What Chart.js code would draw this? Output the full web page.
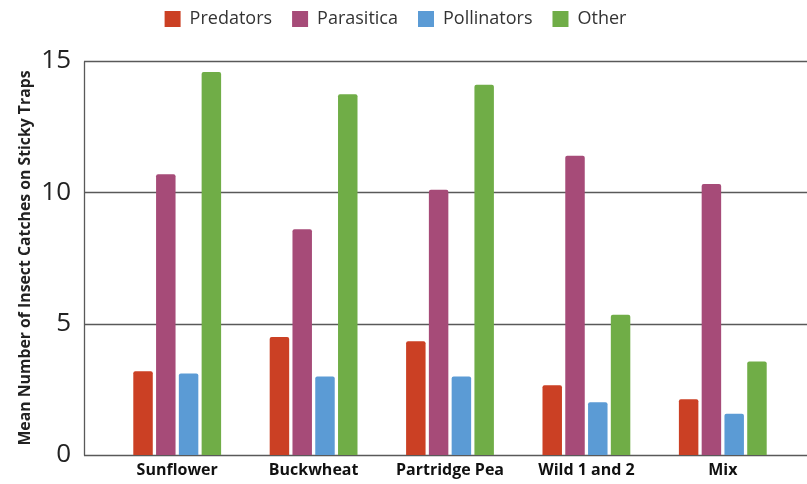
<!DOCTYPE html>
<html>
<head>
<meta charset="utf-8">
<script src="https://cdn.jsdelivr.net/npm/chart.js@4"></script>
<style>
  html, body { margin: 0; padding: 0; background: #fff; }
  canvas { display: block; }
</style>
</head>
<body>
<canvas id="c" width="807" height="484"></canvas>
<script>
const categories = ["Sunflower", "Buckwheat", "Partridge Pea", "Wild 1 and 2", "Mix"];
const seriesNames = ["Predators", "Parasitica", "Pollinators", "Other"];
const predators   = [3.19, 4.49, 4.33, 2.66, 2.12];
const parasitica  = [10.69, 8.59, 10.10, 11.39, 10.32];
const pollinators = [3.10, 2.99, 2.99, 2.01, 1.57];
const other       = [14.58, 13.73, 14.10, 5.34, 3.56];
const yTicks = [0, 5, 10, 15];
const colors = ["#CB4024", "#A64B78", "#5B9BD5", "#70AD47"];

const seriesValues = [predators, parasitica, pollinators, other];

// Horizontal gridlines and y axis line, extended past the category band
const extendedGrid = {
  id: 'extendedGrid',
  beforeDatasetsDraw(chart) {
    const { ctx, chartArea, scales } = chart;
    const left = chartArea.left - 25;
    const right = chart.width;
    ctx.save();
    ctx.strokeStyle = '#595959';
    ctx.lineWidth = 1.3;
    scales.y.ticks.forEach(t => {
      const y = Math.round(scales.y.getPixelForValue(t.value)) + 0.5;
      ctx.beginPath();
      ctx.moveTo(left, y);
      ctx.lineTo(right, y);
      ctx.stroke();
    });
    const yTop = Math.round(scales.y.getPixelForValue(scales.y.max)) + 0.5;
    const yBot = Math.round(scales.y.getPixelForValue(scales.y.min)) + 0.5;
    ctx.beginPath();
    ctx.moveTo(left + 0.5, yTop);
    ctx.lineTo(left + 0.5, yBot);
    ctx.stroke();
    ctx.restore();
  }
};

// Shift the legend up and reserve a fixed band for it
const legendPlacement = {
  id: 'legendPlacement',
  afterInit(chart) {
    const lg = chart.legend;
    if (!lg || lg._patched) return;
    lg._patched = true;
    const origFit = lg.fit.bind(lg);
    lg.fit = function () { origFit(); this.height = 61; };
    const origDraw = lg.draw.bind(lg);
    lg.draw = function () {
      const ctx = this.ctx;
      ctx.save();
      ctx.translate(0, -10);
      origDraw();
      ctx.restore();
    };
  }
};

new Chart(document.getElementById('c'), {
  type: 'bar',
  data: {
    labels: categories,
    datasets: seriesNames.map((name, i) => ({
      label: name,
      data: seriesValues[i],
      backgroundColor: colors[i],
      borderColor: colors[i],
      borderWidth: 0,
      borderRadius: 2,
      borderSkipped: 'bottom',
      categoryPercentage: 0.668,
      barPercentage: 0.855
    }))
  },
  options: {
    responsive: false,
    maintainAspectRatio: false,
    animation: false,
    layout: { padding: { top: 0, right: 16, left: 0, bottom: 0 } },
    plugins: {
      legend: {
        position: 'top',
        labels: {
          boxWidth: 16,
          boxHeight: 16,
          padding: 20,
          color: '#333',
          font: { family: 'Open Sans', size: 18 }
        }
      },
      tooltip: { enabled: false }
    },
    scales: {
      x: {
        grid: { display: false, drawTicks: false },
        border: { display: false },
        ticks: {
          color: '#111',
          padding: 6,
          font: { family: 'Open Sans', size: 16, weight: 'bold' }
        },
        afterFit(scale) { scale.height = 29; }
      },
      y: {
        min: 0,
        max: 15,
        afterBuildTicks(scale) { scale.ticks = yTicks.map(v => ({ value: v })); },
        grid: { display: false, drawTicks: false },
        border: { display: false },
        ticks: {
          color: '#222',
          padding: 38,
          font: { family: 'Open Sans', size: 26 }
        },
        title: {
          display: true,
          text: 'Mean Number of Insect Catches on Sticky Traps',
          color: '#222',
          padding: { top: 16, bottom: 0 },
          font: { family: 'Open Sans', size: 15.8, weight: 'bold' }
        },
        afterFit(scale) {
          scale.width = 109;
          scale.paddingTop = 0;
          scale.paddingBottom = 0;
        }
      }
    }
  },
  plugins: [extendedGrid, legendPlacement]
});
</script>
</body>
</html>
